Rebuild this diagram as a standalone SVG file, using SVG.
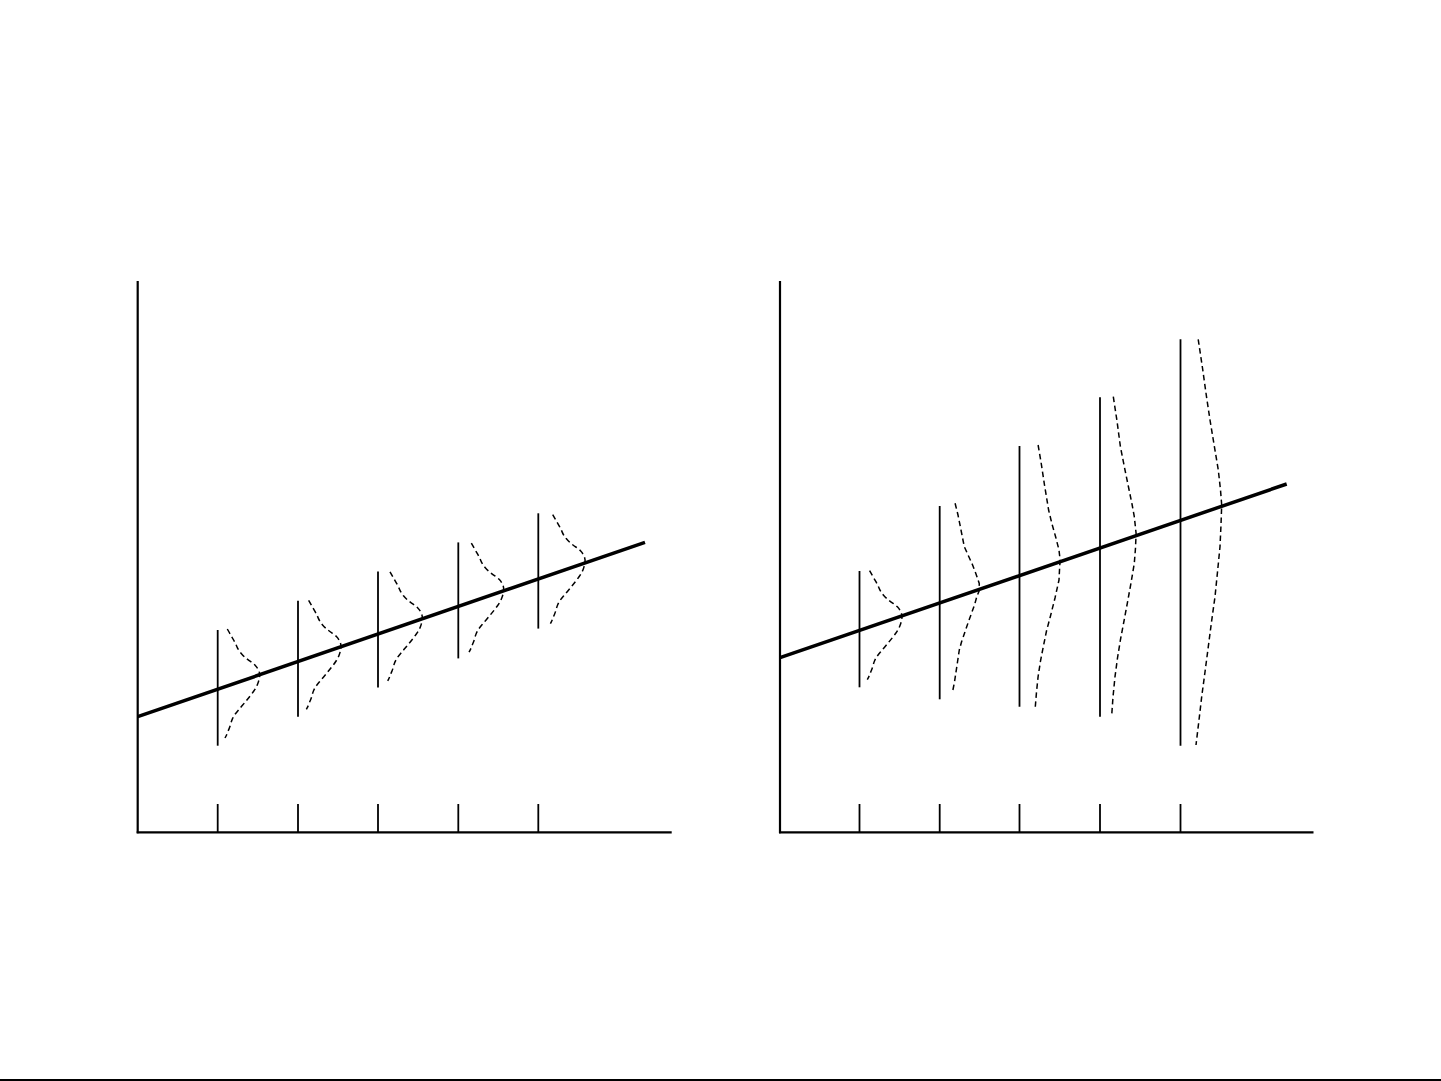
<svg xmlns="http://www.w3.org/2000/svg" xmlns:xlink="http://www.w3.org/1999/xlink" width="1441" height="1081" viewBox="0 0 1441 1081">
  <style>
    .axis{stroke:#000;stroke-width:2.2;fill:none}
    .reg{stroke:#000;stroke-width:3.5;fill:none;stroke-linecap:butt}
    .vert{stroke:#000;stroke-width:1.8;fill:none}
    .tick{stroke:#000;stroke-width:1.8;fill:none}
    .dist{stroke:#000;stroke-width:1.5;fill:none;stroke-dasharray:5.5 3.5;stroke-linejoin:round}
  </style>
  <defs>
    <path id="gauss" class="dist" d="M0,0 L2,3.5 Q4,7 6,10.5 Q8,14 9.5,17.5 Q11,21 13.5,24 Q16,27 18.5,29 Q21,31 23.5,32.65 Q26,34.3 28,36.4 Q30,38.5 31.35,41.4 Q32.7,44.3 32.25,47.65 Q31.8,51 30.6,54.35 Q29.4,57.7 27.45,60.6 Q25.5,63.5 23.25,66.4 Q21,69.3 18.9,71.8 Q16.8,74.3 14.75,76.8 Q12.7,79.3 10.85,81.4 Q9,83.5 7.5,85.6 Q6,87.7 5,90.1 Q4,92.5 3.35,95.1 Q2.7,97.7 1.75,99.85 Q0.8,102 0.05,104 Q-0.7,106 -1.5,107.5 L-2.3,109"/>
  </defs>
  <rect x="0" y="0" width="1441" height="1081" fill="#fff"/>

  <g id="left-panel">
    <g id="left-axes">
      <line class="axis" x1="137.7" y1="281" x2="137.7" y2="833.3"/>
      <line class="axis" x1="136.7" y1="832.3" x2="671.7" y2="832.3"/>
      <line class="tick" x1="217.7" y1="804" x2="217.7" y2="832"/>
      <line class="tick" x1="298" y1="804" x2="298" y2="832"/>
      <line class="tick" x1="378" y1="804" x2="378" y2="832"/>
      <line class="tick" x1="458.3" y1="804" x2="458.3" y2="832"/>
      <line class="tick" x1="538.3" y1="804" x2="538.3" y2="832"/>
    </g>
    <g id="left-verticals">
      <line class="vert" x1="217.7" y1="630" x2="217.7" y2="745.7"/>
      <line class="vert" x1="298" y1="600.8" x2="298" y2="716.8"/>
      <line class="vert" x1="378" y1="571.6" x2="378" y2="687.6"/>
      <line class="vert" x1="458.3" y1="542.4" x2="458.3" y2="658.4"/>
      <line class="vert" x1="538.3" y1="513.3" x2="538.3" y2="628.6"/>
    </g>
    <g id="left-distributions">
      <use xlink:href="#gauss" href="#gauss" transform="translate(227.3,629)"/>
      <use xlink:href="#gauss" href="#gauss" transform="translate(308.65,600.4)"/>
      <use xlink:href="#gauss" href="#gauss" transform="translate(390,571.8)"/>
      <use xlink:href="#gauss" href="#gauss" transform="translate(471.35,543.2)"/>
      <use xlink:href="#gauss" href="#gauss" transform="translate(552.7,514.6)"/>
    </g>
    <line id="left-regression" class="reg" x1="137.7" y1="716.7" x2="645" y2="542.3"/>
  </g>

  <g id="right-panel">
    <g id="right-axes">
      <line class="axis" x1="780" y1="281" x2="780" y2="833.3"/>
      <line class="axis" x1="779" y1="832.3" x2="1313.5" y2="832.3"/>
      <line class="tick" x1="859.5" y1="804" x2="859.5" y2="832"/>
      <line class="tick" x1="939.7" y1="804" x2="939.7" y2="832"/>
      <line class="tick" x1="1019.5" y1="804" x2="1019.5" y2="832"/>
      <line class="tick" x1="1100" y1="804" x2="1100" y2="832"/>
      <line class="tick" x1="1180.5" y1="804" x2="1180.5" y2="832"/>
    </g>
    <g id="right-verticals">
      <line class="vert" x1="859.5" y1="571" x2="859.5" y2="687.3"/>
      <line class="vert" x1="939.7" y1="506" x2="939.7" y2="699.3"/>
      <line class="vert" x1="1019.5" y1="446" x2="1019.5" y2="706.7"/>
      <line class="vert" x1="1100" y1="397.3" x2="1100" y2="716.7"/>
      <line class="vert" x1="1180.5" y1="339.3" x2="1180.5" y2="745.7"/>
    </g>
    <g id="right-distributions">
      <use xlink:href="#gauss" href="#gauss" transform="translate(869.6,570.7)"/>
      <path class="dist" d="M955.1,503.3 L958,515 L961,530 L964.3,546.7 L968.5,556 L972.6,565 L976,574 L979.2,583.3 L979.5,590 L976.8,596.7 L974.5,605 L971.5,613.3 L968,623 L964.5,633.3 L961.5,642 L959.3,650 L957.5,662 L955.8,673.3 L954.5,682 L952.9,690"/>
      <path class="dist" d="M1038.1,445 L1041,462 L1044.5,485 L1048.6,510 L1052,524 L1055.6,536.7 L1059,550 L1060.1,560 L1059.5,570 L1059,580 L1055,598 L1050.3,616.7 L1046.5,631 L1043.3,646.7 L1040.5,661 L1038.1,676.7 L1036.5,692 L1035.3,706.7"/>
      <path class="dist" d="M1113.3,396.7 L1117,421 L1120.4,446.7 L1125,470 L1129.1,490 L1132,504 L1134.3,516.7 L1136.1,533.3 L1135.5,548 L1134.3,563.3 L1131,583 L1127.3,603.3 L1124,621 L1120.4,640 L1117.5,658 L1115,676.7 L1113,697 L1111.6,716.7"/>
      <path class="dist" d="M1198.2,339.3 L1202.5,368 L1206.5,396.7 L1210,420 L1213.3,440 L1218.3,470 L1220.5,490 L1221.7,505 L1221,525 L1220,546.7 L1217.5,572 L1215,596.7 L1211.5,622 L1208.3,646.7 L1205,672 L1201.7,696.7 L1199,720 L1196,745"/>
    </g>
    <line id="right-regression" class="reg" x1="780" y1="657.7" x2="1286.7" y2="484"/>
  </g>

  <line id="bottom-border" x1="0" y1="1080" x2="1441" y2="1080" stroke="#000" stroke-width="2"/>
</svg>
